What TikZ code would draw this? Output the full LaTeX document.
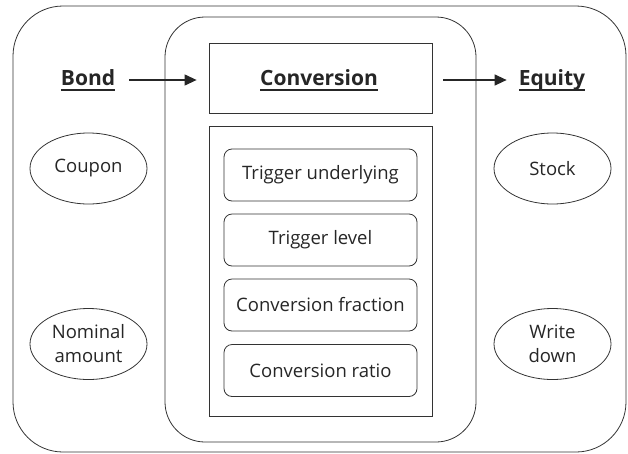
\documentclass[tikz,border=0pt]{standalone}
\usepackage{fontspec}
\setmainfont{Open Sans}
\usetikzlibrary{arrows.meta,shapes.geometric}
% heading text with a firm underline set just below the baseline
\newcommand\headline[1]{\setbox0\hbox{#1}\copy0\llap{\raisebox{-5.5pt}{\rule{\wd0}{1.4pt}}}}
\begin{document}
\begin{tikzpicture}[x=1pt,y=-1pt,
  every node/.style={font=\fontsize{18.5}{22}\selectfont, text=black!85},
  frame/.style={draw=black!80, line width=0.8pt},
  param/.style={frame, rounded corners=8pt, minimum width=193pt, minimum height=52pt, inner sep=0pt},
  leaf/.style={frame, ellipse, minimum width=117pt, minimum height=71pt, inner sep=0pt, align=center, font=\fontsize{18.5}{24}\selectfont},
  heading/.style={font=\bfseries\fontsize{21}{24}\selectfont, inner sep=2pt},
  flow/.style={draw=black!85, line width=1.2pt, -{Triangle[length=12pt,width=11pt]}}
]
\useasboundingbox (0,0) rectangle (628,453);

% outer and inner rounded frames
\node[frame, rounded corners=50pt, minimum width=613pt, minimum height=446pt, inner sep=0pt] (outer) at (319.5,229) {};
\node[frame, rounded corners=40pt, minimum width=311pt, minimum height=425pt, inner sep=0pt] (inner) at (320.5,229.5) {};

% conversion title box and parameter box
\node[frame, minimum width=223pt, minimum height=70pt, inner sep=0pt] (convbox) at (320.5,78) {};
\node[heading] (conv) at (319,80) {\headline{Conversion}};
\node[frame, minimum width=223pt, minimum height=290pt, inner sep=0pt] (parbox) at (320.5,271) {};

% conversion parameters
\node[param] (p1) at (320.5,175) {Trigger underlying};
\node[param] (p2) at (320.5,240) {Trigger level};
\node[param] (p3) at (320.5,305) {Conversion fraction};
\node[param] (p4) at (320.5,370.5) {Conversion ratio};

% bond side
\node[heading] (bond) at (88,80) {\headline{Bond}};
\node[leaf] (coupon) at (88.5,168.5) {Coupon};
\node[leaf] (nominal) at (88.5,344) {Nominal\\amount};

% equity side
\node[heading] (equity) at (552,80) {\headline{Equity}};
\node[leaf] (stock) at (552.5,168.5) {Stock};
\node[leaf] (write) at (552.5,344) {Write\\down};

% flow arrows
\draw[flow, shorten <=12pt, shorten >=12pt] (bond.east) -- (bond.east -| convbox.west);
\draw[flow, shorten <=11pt, shorten >=10pt] (equity.west -| convbox.east) -- (equity.west);
\end{tikzpicture}
\end{document}
